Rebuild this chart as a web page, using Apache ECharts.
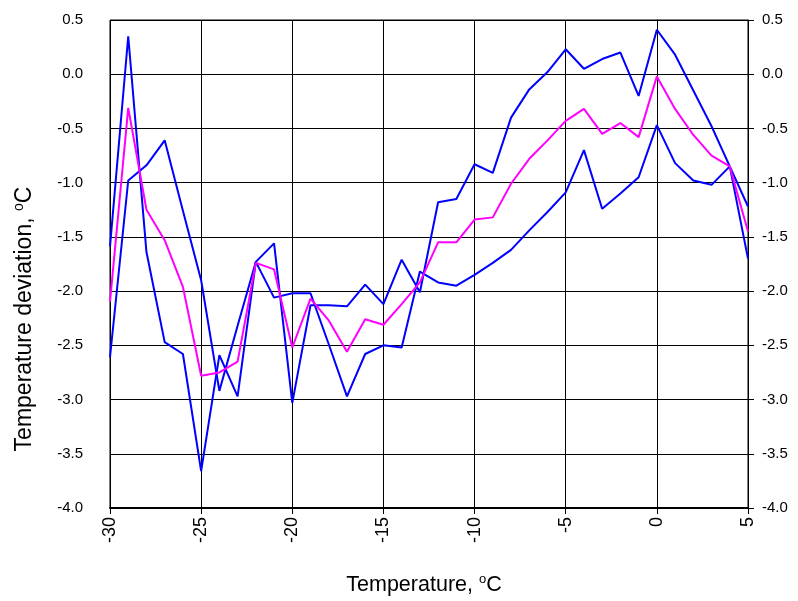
<!DOCTYPE html>
<html>
<head>
<meta charset="utf-8">
<script src="https://cdn.jsdelivr.net/npm/echarts@6/dist/echarts.min.js"></script>
<style>
html,body{margin:0;padding:0;background:#fff;}
#chart{width:798px;height:601px;}
</style>
</head>
<body>
<div id="chart"></div>
<script>
// Temperature (°C) on x axis
var temps = [-30,-29,-28,-27,-26,-25,-24,-23,-22,-21,-20,-19,-18,-17,-16,-15,-14,-13,-12,-11,-10,-9,-8,-7,-6,-5,-4,-3,-2,-1,0,1,2,3,4,5];
// Blue curve 1
var blue1 = [-1.59,0.35,-1.64,-2.47,-2.58,-3.66,-2.59,-2.97,-1.73,-1.56,-3.03,-2.13,-2.13,-2.14,-1.94,-2.12,-1.71,-2.01,-1.18,-1.15,-0.83,-0.91,-0.40,-0.14,0.02,0.23,0.05,0.14,0.20,-0.20,0.41,0.18,-0.15,-0.48,-0.85,-1.22];
// Blue curve 2
var blue2 = [-2.61,-0.98,-0.84,-0.61,-1.26,-1.90,-2.92,-2.32,-1.73,-2.06,-2.02,-2.02,-2.49,-2.97,-2.58,-2.50,-2.52,-1.82,-1.92,-1.95,-1.85,-1.74,-1.62,-1.44,-1.27,-1.09,-0.70,-1.24,-1.10,-0.95,-0.47,-0.82,-0.98,-1.02,-0.85,-1.70];
// Magenta curve
var magenta = [-2.10,-0.31,-1.25,-1.53,-1.96,-2.78,-2.75,-2.65,-1.74,-1.80,-2.52,-2.07,-2.27,-2.56,-2.26,-2.31,-2.12,-1.92,-1.55,-1.55,-1.34,-1.32,-1.01,-0.78,-0.61,-0.43,-0.32,-0.55,-0.45,-0.58,-0.02,-0.32,-0.56,-0.75,-0.85,-1.45];

var xMin = -30, xMax = 5, xStep = 5;
var yMin = -4.0, yMax = 0.5, yStep = 0.5;
var xTitle = 'Temperature, ';
var yTitle = 'Temperature deviation, ';

function pairs(vals){ return temps.map(function(t,i){ return [t, vals[i]]; }); }

var chart = echarts.init(document.getElementById('chart'), null, {renderer:'canvas'});
var font = 'Liberation Sans, Arial, sans-serif';
var yAxisCommon = {
  type:'value', min:yMin, max:yMax, interval:yStep,
  axisLine:{show:true, lineStyle:{color:'#000', width:1}},
  axisTick:{show:true, inside:false, length:6, lineStyle:{color:'#000'}},
  axisLabel:{color:'#000', fontFamily:font, fontSize:15, formatter:function(v){return v.toFixed(1);}}
};
chart.setOption({
  animation:false,
  backgroundColor:'#fff',
  grid:{left:110, right:50, top:20, bottom:93, show:true, borderColor:'#000', borderWidth:1},
  xAxis:{
    type:'value', min:xMin, max:xMax, interval:xStep,
    axisLine:{show:true, onZero:false, lineStyle:{color:'#000', width:2}},
    axisTick:{show:true, inside:false, length:6, lineStyle:{color:'#000'}},
    axisLabel:{color:'#000', fontFamily:font, fontSize:18, rotate:90, margin:9},
    splitLine:{show:true, lineStyle:{color:'#000', width:1}}
  },
  yAxis:[
    Object.assign({}, yAxisCommon, {position:'left', axisLabel:Object.assign({}, yAxisCommon.axisLabel, {margin:27}), splitLine:{show:true, lineStyle:{color:'#000', width:1}}}),
    Object.assign({}, yAxisCommon, {position:'right', axisLabel:Object.assign({}, yAxisCommon.axisLabel, {margin:14}), splitLine:{show:false}})
  ],
  graphic:[
    {type:'text', x:424, y:585, style:{
      text:'{t|' + xTitle + '}{s|o}{t|C}', align:'center', verticalAlign:'middle',
      rich:{t:{fontSize:21.5, fontFamily:font, fill:'#000', lineHeight:24}, s:{fontSize:13, fontFamily:font, fill:'#000', verticalAlign:'top', lineHeight:24}}
    }},
    {type:'text', x:25, y:319, rotation:Math.PI/2, style:{
      text:'{t|' + yTitle + '}{s|o}{t|C}', align:'center', verticalAlign:'middle',
      rich:{t:{fontSize:23, fontFamily:font, fill:'#000', lineHeight:26}, s:{fontSize:14, fontFamily:font, fill:'#000', verticalAlign:'top', lineHeight:26}}
    }}
  ],
  series:[
    {type:'line', data:pairs(blue1), showSymbol:false, symbol:'none', lineStyle:{color:'#0000FF', width:2}, z:3},
    {type:'line', data:pairs(blue2), showSymbol:false, symbol:'none', lineStyle:{color:'#0000FF', width:2}, z:3},
    {type:'line', data:pairs(magenta), showSymbol:false, symbol:'none', lineStyle:{color:'#FF00FF', width:2}, z:4}
  ]
});
</script>
</body>
</html>
